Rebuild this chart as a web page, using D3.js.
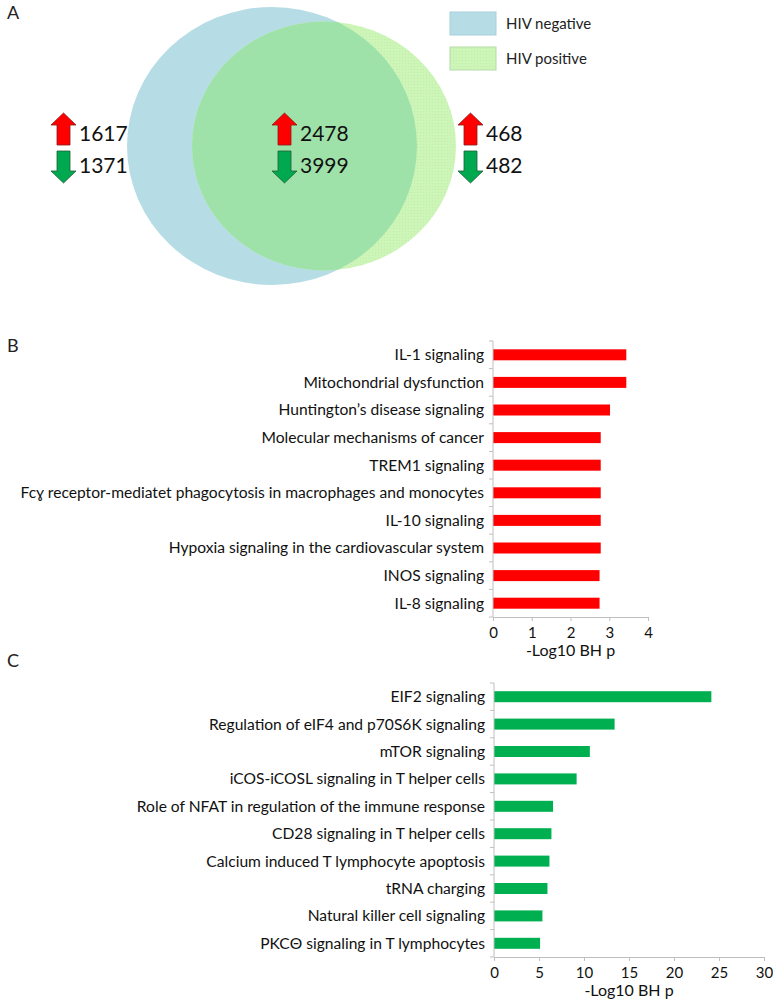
<!DOCTYPE html>
<html><head><meta charset="utf-8">
<script src="https://cdn.jsdelivr.net/npm/d3@7"></script>
<style>
body{margin:0;background:#fff;}
svg{display:block;font-family:Lato,"Open Sans",sans-serif;}
</style></head><body>
<svg id="chart" width="773" height="1000"></svg>
<script>
// ---- Data ----
const vennSets = ["HIV negative", "HIV positive"];
const vennRegions = ["HIV negative only", "Both", "HIV positive only"];
const vennUp = [1617, 2478, 468];
const vennDown = [1371, 3999, 482];

const upPathways = ["IL-1 signaling","Mitochondrial dysfunction","Huntington\u2019s disease signaling","Molecular mechanisms of cancer","TREM1 signaling","Fc\u0263 receptor-mediatet phagocytosis in macrophages and monocytes","IL-10 signaling","Hypoxia signaling in the cardiovascular system","INOS signaling","IL-8 signaling"];
const upValues = [3.44, 3.44, 3.02, 2.78, 2.78, 2.78, 2.78, 2.78, 2.75, 2.75];
const upTicks = [0, 1, 2, 3, 4];

const downPathways = ["EIF2 signaling","Regulation of eIF4 and p70S6K signaling","mTOR signaling","iCOS-iCOSL signaling in T helper cells","Role of NFAT in regulation of the immune response","CD28 signaling in T helper cells","Calcium induced T lymphocyte apoptosis","tRNA charging","Natural killer cell signaling","PKC\u0398 signaling in T lymphocytes"];
const downValues = [24.15, 13.4, 10.65, 9.18, 6.56, 6.38, 6.16, 5.94, 5.38, 5.12];
const downTicks = [0, 5, 10, 15, 20, 25, 30];

const xTitle = "-Log10 BH p";

// ---- Drawing ----
const svg = d3.select("#chart");
const FONT = 'Lato,"Open Sans",sans-serif';

// panel letters
[["A",19],["B",352],["C",667]].forEach(([t,y])=>{
  svg.append("text").attr("x",7).attr("y",y).attr("font-size",18).attr("fill","#222").text(t);
});

// Venn
const defs = svg.append("defs");
const pat = defs.append("pattern").attr("id","dots").attr("width",3).attr("height",3).attr("patternUnits","userSpaceOnUse");
pat.append("rect").attr("width",3).attr("height",3).attr("fill","#cdf5b8");
pat.append("rect").attr("width",1).attr("height",1).attr("fill","#bfeeaa");
const blue = {cx:272, cy:146, rx:145, ry:139};
const green = {cx:324, cy:146, rx:132, ry:124.5};
defs.append("clipPath").attr("id","blueClip").append("ellipse").attr("cx",blue.cx).attr("cy",blue.cy).attr("rx",blue.rx).attr("ry",blue.ry);
const venn = svg.append("g");
venn.append("ellipse").attr("cx",blue.cx).attr("cy",blue.cy).attr("rx",blue.rx).attr("ry",blue.ry).attr("fill","#b6dde6");
venn.append("ellipse").attr("cx",green.cx).attr("cy",green.cy).attr("rx",green.rx).attr("ry",green.ry).attr("fill","url(#dots)");
venn.append("ellipse").attr("cx",green.cx).attr("cy",green.cy).attr("rx",green.rx).attr("ry",green.ry).attr("fill","#9fe2a9").attr("clip-path","url(#blueClip)");

// legend
const legColors = ["#b6dde6","url(#dots)"];
vennSets.forEach((s,i)=>{
  const y = 12 + i*35;
  svg.append("rect").attr("x",450).attr("y",y).attr("width",46).attr("height",23)
    .attr("fill",legColors[i]).attr("stroke", i===0?"#a9cfd9":"#b5dcaa").attr("stroke-width",1);
  svg.append("text").attr("x",506).attr("y",y+16.5).attr("font-size",15).attr("fill","#222").text(s);
});

// arrows
function arrowPath(x, y, w, h, up){
  const hh = 12, sw = 13;
  const sx0 = x + (w-sw)/2, sx1 = sx0 + sw;
  if(up){
    return `M${x+w/2},${y} L${x+w},${y+hh} L${sx1},${y+hh} L${sx1},${y+h} L${sx0},${y+h} L${sx0},${y+hh} L${x},${y+hh} Z`;
  } else {
    return `M${sx0},${y} L${sx1},${y} L${sx1},${y+h-hh} L${x+w},${y+h-hh} L${x+w/2},${y+h} L${x},${y+h-hh} L${sx0},${y+h-hh} Z`;
  }
}
const arrowX = [51, 272, 458];
vennRegions.forEach((r,i)=>{
  const x = arrowX[i];
  svg.append("path").attr("d",arrowPath(x,113,25,32,true)).attr("fill","#ff0000").attr("stroke","#8b1a1a").attr("stroke-width",0.8);
  svg.append("path").attr("d",arrowPath(x,151,25,32,false)).attr("fill","#00a850").attr("stroke","#1f5f35").attr("stroke-width",0.8);
  svg.append("text").attr("x",x+28).attr("y",140.5).attr("font-size",21).attr("fill","#111").text(vennUp[i]);
  svg.append("text").attr("x",x+28).attr("y",172.5).attr("font-size",21).attr("fill","#111").text(vennDown[i]);
});

// bar charts
function barChart(cfg){
  const g = svg.append("g");
  const x = d3.scaleLinear().domain(cfg.domain).range([cfg.x0, cfg.x1]);
  const yb = d3.scaleBand().domain(cfg.cats).range([cfg.y0, cfg.y1]);
  // bars
  g.selectAll("rect.bar").data(cfg.vals).join("rect").attr("class","bar")
    .attr("x",x(0)).attr("y",(d,i)=>yb(cfg.cats[i]) + yb.bandwidth()/2 - 5.5)
    .attr("width",d=>x(d)-x(0)).attr("height",11).attr("fill",cfg.color);
  // y axis line + ticks at band boundaries
  g.append("line").attr("x1",x(0)).attr("x2",x(0)).attr("y1",cfg.y0).attr("y2",cfg.y1).attr("stroke","#bfbfbf");
  const bounds = cfg.cats.map(c=>yb(c)).concat([cfg.y1]);
  g.selectAll("line.yt").data(bounds).join("line").attr("class","yt")
    .attr("x1",x(0)-4).attr("x2",x(0)).attr("y1",d=>d).attr("y2",d=>d).attr("stroke","#bfbfbf");
  // labels
  g.selectAll("text.cat").data(cfg.cats).join("text").attr("class","cat")
    .attr("x",x(0)-9).attr("y",c=>yb(c)+yb.bandwidth()/2).attr("dy","0.35em")
    .attr("text-anchor","end").attr("font-size",cfg.labelSize).attr("fill","#111").text(c=>c);
  // x axis
  const ax = g.append("g").attr("transform",`translate(0,${cfg.y1})`)
    .call(d3.axisBottom(x).tickValues(cfg.ticks).tickFormat(d3.format("d")).tickSize(4).tickSizeOuter(0));
  ax.select(".domain").attr("stroke","#bfbfbf");
  ax.selectAll(".tick line").attr("stroke","#bfbfbf");
  ax.selectAll(".tick text").attr("font-size",15).attr("font-family",FONT).attr("fill","#111").attr("dy","0.9em");
  g.append("text").attr("x",(cfg.x0+cfg.x1)/2).attr("y",cfg.y1+39).attr("text-anchor","middle")
    .attr("font-size",16).attr("fill","#111").text(xTitle);
}
barChart({cats:upPathways, vals:upValues, domain:[0,4], ticks:upTicks, x0:493, x1:648, y0:341, y1:617, color:"#ff0000", labelSize:15.6});
barChart({cats:downPathways, vals:downValues, domain:[0,30], ticks:downTicks, x0:494, x1:764, y0:683, y1:957, color:"#00b050", labelSize:15.6});
</script>
</body></html>
